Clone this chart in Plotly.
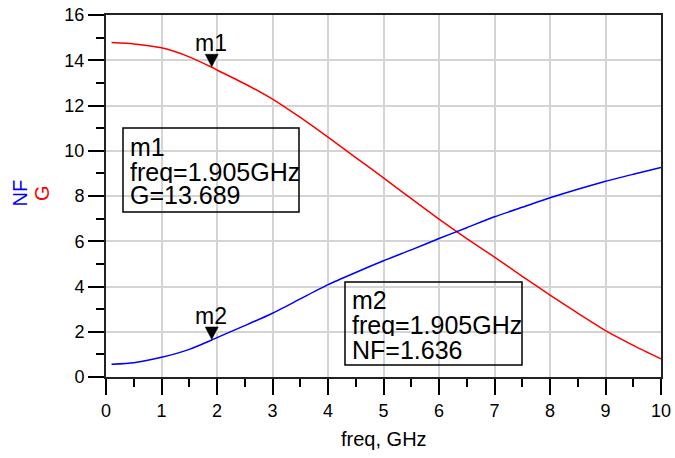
import plotly.graph_objects as go

# ---- data ----
freq = [0.1, 0.5, 1.0, 1.5, 1.905, 2.0, 2.5, 3.0, 3.5, 4.0, 4.5, 5.0, 5.5, 6.0,
        6.5, 7.0, 7.5, 8.0, 8.5, 9.0, 9.5, 10.0]
G = [14.78, 14.72, 14.55, 14.15, 13.689, 13.57, 12.96, 12.28, 11.47, 10.6, 9.7,
     8.8, 7.88, 6.98, 6.12, 5.3, 4.45, 3.62, 2.82, 2.05, 1.4, 0.8]
NF = [0.56, 0.63, 0.87, 1.22, 1.636, 1.74, 2.27, 2.82, 3.45, 4.08, 4.62, 5.14,
      5.62, 6.12, 6.6, 7.08, 7.5, 7.92, 8.3, 8.65, 8.96, 9.26]

marker_names = ["m1", "m2"]
marker_freq = [1.905, 1.905]
marker_vals = [13.689, 1.636]
marker_traces = ["G", "NF"]

x_ticks = list(range(0, 11))
y_ticks = list(range(0, 17, 2))

# ---- layout geometry (pixels) ----
W, H = 675, 458
L, R, T, B = 106, 14, 15, 81
PW, PH = W - L - R, H - T - B
FONT = "Liberation Sans, Arial, sans-serif"


def px_x(px):
    return (px - L) / PW


def px_y(py):
    return (H - B - py) / PH


fig = go.Figure()
fig.add_trace(go.Scatter(x=freq, y=G, mode="lines", name="G",
                         line=dict(color="#ff0000", width=1.5, shape="spline", smoothing=0.6)))
fig.add_trace(go.Scatter(x=freq, y=NF, mode="lines", name="NF",
                         line=dict(color="#0000ff", width=1.5, shape="spline", smoothing=0.6)))

shapes = []
annotations = []

# marker triangles and labels
for name, fx, fv in zip(marker_names, marker_freq, marker_vals):
    shapes.append(dict(type="path", xref="x", yref="y",
                       xsizemode="pixel", ysizemode="pixel",
                       xanchor=fx, yanchor=fv,
                       path="M-6.5,13 L6.5,13 L0,0.5 Z",
                       fillcolor="black", line=dict(color="black", width=0.5)))
    annotations.append(dict(x=fx, y=fv, xref="x", yref="y", text=name,
                            showarrow=False, xanchor="center", yanchor="middle",
                            yshift=24, xshift=-1, height=22,
                            font=dict(family=FONT, size=23, color="black")))

# readout boxes
boxes = [
    (123, 128, 299, 212, 128, [147, 171, 195],
     [marker_names[0], f"freq={marker_freq[0]:.3f}GHz", f"{marker_traces[0]}={marker_vals[0]:.3f}"]),
    (345, 282, 522, 365, 350, [299, 324, 349],
     [marker_names[1], f"freq={marker_freq[1]:.3f}GHz", f"{marker_traces[1]}={marker_vals[1]:.3f}"]),
]
for x0, y0, x1, y1, tx, tys, lines in boxes:
    shapes.append(dict(type="rect", xref="paper", yref="paper",
                       x0=px_x(x0), x1=px_x(x1), y0=px_y(y1), y1=px_y(y0),
                       line=dict(color="black", width=1.5), fillcolor="rgba(0,0,0,0)"))
    for ty, txt in zip(tys, lines):
        annotations.append(dict(x=px_x(tx), y=px_y(ty), xref="paper", yref="paper",
                                text=txt, showarrow=False, xanchor="left", yanchor="middle",
                                height=23, valign="middle",
                                font=dict(family=FONT, size=25, color="black")))

# axis titles
annotations.append(dict(x=px_x(19), y=px_y(193.5), xref="paper", yref="paper",
                        text="NF", textangle=-90, showarrow=False,
                        xanchor="center", yanchor="middle",
                        font=dict(family=FONT, size=20, color="#0000ff")))
annotations.append(dict(x=px_x(41.5), y=px_y(193.5), xref="paper", yref="paper",
                        text="G", textangle=-90, showarrow=False,
                        xanchor="center", yanchor="middle",
                        font=dict(family=FONT, size=20, color="#ff0000")))
annotations.append(dict(x=px_x(383.5), y=px_y(439), xref="paper", yref="paper",
                        text="freq, GHz", showarrow=False,
                        xanchor="center", yanchor="middle",
                        font=dict(family=FONT, size=20, color="black")))

axis_common = dict(
    showgrid=True, gridcolor="#d4d4d4", gridwidth=1.5,
    showline=True, linecolor="#222222", linewidth=2, mirror=True,
    ticks="outside", ticklen=16, tickwidth=1.5, tickcolor="black",
    tickfont=dict(family=FONT, size=18, color="black"),
    zeroline=False, fixedrange=True, automargin=False,
)

fig.update_layout(
    width=W, height=H, autosize=False,
    margin=dict(l=L, r=R, t=T, b=B, pad=0, autoexpand=False),
    paper_bgcolor="white", plot_bgcolor="white",
    showlegend=False,
    shapes=shapes, annotations=annotations,
    xaxis=dict(range=[0, 10], tickvals=x_ticks, ticktext=[str(v) for v in x_ticks],
               minor=dict(dtick=0.5, tick0=0, ticks="outside", ticklen=8,
                          tickwidth=1.5, tickcolor="black", showgrid=False),
               **axis_common),
    yaxis=dict(range=[0, 16], tickvals=y_ticks, ticktext=[str(v) for v in y_ticks],
               minor=dict(dtick=1, tick0=0, ticks="outside", ticklen=8,
                          tickwidth=1.5, tickcolor="black", showgrid=False),
               **axis_common),
)

fig.write_html("out.html", config={"responsive": False, "displayModeBar": False})
